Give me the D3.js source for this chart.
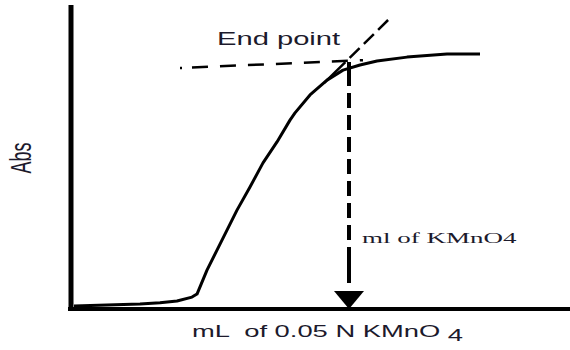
<!DOCTYPE html>
<html>
<head>
<meta charset="utf-8">
<script src="https://cdn.jsdelivr.net/npm/d3@7"></script>
<style>
  html, body { margin: 0; padding: 0; background: #fff; }
  svg { display: block; }
  text { white-space: pre; }
</style>
</head>
<body>
<svg id="chart" width="570" height="350"></svg>
<script>
// Titration curve: absorbance vs. volume of titrant added
const volume = [0.06, 0.72, 1.38, 1.78, 2.12, 2.42, 2.52, 2.72, 2.92, 3.12, 3.32, 3.58, 3.84, 4.12, 4.38, 4.48, 4.78, 5.12, 5.44, 5.78, 6.12, 6.72, 7.52, 8.18];
const absorbance = [0.007, 0.010, 0.013, 0.017, 0.023, 0.036, 0.046, 0.125, 0.191, 0.257, 0.323, 0.399, 0.479, 0.548, 0.620, 0.644, 0.703, 0.752, 0.785, 0.802, 0.815, 0.828, 0.838, 0.838];

// Extrapolated lines whose crossing marks the end point
const plateauLine = [[2.18, 0.792], [5.84, 0.818]];
const riseLine = [[5.06, 0.742], [6.40, 0.960]];
const endPoint = { volume: 5.56, absorbance: 0.812 };

const labels = {
  endPoint: "End point",
  endVolume: "ml of KMnO4",
  xTitle: "mL  of 0.05 N KMnO ",
  xSub: "4",
  yTitle: "Abs"
};

const svg = d3.select("#chart");
const ink = "#1c1a2c";

const x = d3.scaleLinear().domain([0, 10]).range([71, 571]);
const y = d3.scaleLinear().domain([0, 1]).range([308, 5]);

// Axes without ticks: just heavy frame lines
const xAxis = svg.append("g")
  .attr("transform", `translate(0,${y(0) + 1})`)
  .call(d3.axisBottom(x).tickValues([]).tickSizeOuter(0));
xAxis.select(".domain").attr("stroke", "#000").attr("stroke-width", 4);
xAxis.select(".domain").attr("d", `M${x(0) - 3},0H${x(10)}`);

const yAxis = svg.append("g")
  .attr("transform", `translate(${x(0)},0)`)
  .call(d3.axisLeft(y).tickValues([]).tickSizeOuter(0));
yAxis.select(".domain").attr("stroke", "#000").attr("stroke-width", 5);
yAxis.select(".domain").attr("d", `M0,${y(1)}V${y(0) + 3}`);

const line = d3.line().x(d => x(d[0])).y(d => y(d[1]));

// Plateau extrapolation
svg.append("path")
  .attr("d", line(plateauLine))
  .attr("fill", "none").attr("stroke", "#000")
  .attr("stroke-width", 2.5).attr("stroke-dasharray", "2 10 16 12 16 12 16 12 16 12 16 12 16 12 40");

// Rising-branch extrapolation
svg.append("path")
  .attr("d", line(riseLine))
  .attr("fill", "none").attr("stroke", "#000")
  .attr("stroke-width", 2.5).attr("stroke-dasharray", "30 6 14 6 14 6 14 6");

// Measured curve
svg.append("path")
  .attr("d", line(volume.map((v, i) => [v, absorbance[i]])))
  .attr("fill", "none").attr("stroke", "#000")
  .attr("stroke-width", 3).attr("stroke-linejoin", "round");

// Drop line from the end point to the volume axis
const ex = x(endPoint.volume);
const headTop = y(0) - 17;
svg.append("path")
  .attr("d", `M${ex},${y(endPoint.absorbance)}V${headTop}`)
  .attr("fill", "none").attr("stroke", "#000")
  .attr("stroke-width", 4).attr("stroke-dasharray", "24 7 15 7 15 7 15 7 15 7 15 7 15 7 15 7 36");
svg.append("path")
  .attr("d", `M${ex - 15},${headTop}L${ex + 15},${headTop}L${ex},${y(0) + 1}Z`)
  .attr("fill", "#000");

// Text
function stretchedText(tx, ty, size, family, str, sx) {
  return svg.append("text")
    .attr("transform", `translate(${tx},${ty}) scale(${sx},1)`)
    .attr("font-family", family)
    .attr("font-size", size)
    .attr("fill", ink)
    .text(str);
}

stretchedText(217, 45, 18, "Liberation Sans, Arial, sans-serif", labels.endPoint, 1.62);
stretchedText(362, 243, 15, "Liberation Serif, Times New Roman, serif", labels.endVolume, 1.8);

const xt = svg.append("text")
  .attr("transform", `translate(192,337) scale(1.61,1)`)
  .attr("font-family", "Liberation Sans, Arial, sans-serif")
  .attr("font-size", 17)
  .attr("fill", ink);
xt.append("tspan").text(labels.xTitle);
xt.append("tspan").attr("dy", 4).text(labels.xSub);

svg.append("text")
  .attr("transform", `translate(31,158) scale(1.62,1) rotate(-90)`)
  .attr("text-anchor", "middle")
  .attr("font-family", "Liberation Sans, Arial, sans-serif")
  .attr("font-size", 18)
  .attr("fill", ink)
  .text(labels.yTitle);
</script>
</body>
</html>
